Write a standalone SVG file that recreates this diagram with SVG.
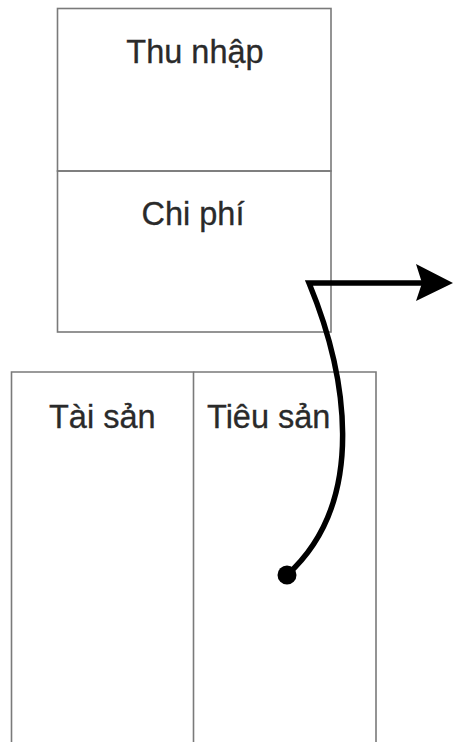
<svg xmlns="http://www.w3.org/2000/svg" width="455" height="742" viewBox="0 0 455 742">
<style>
.box{fill:none;stroke:#7a7a7a;stroke-width:1.6}
.lbl{font-family:"Liberation Sans",Arial,sans-serif;font-size:32.5px;fill:#2a2a2a;stroke:#2a2a2a;stroke-width:0.3}
.flow{fill:none;stroke:#000;stroke-width:5.5;stroke-linejoin:miter}
</style>
<rect width="455" height="742" fill="#fff"/>
<g id="income-expense">
<g id="thu-nhap">
<rect class="box" x="57.5" y="8.5" width="273.5" height="162.5"/>
<text class="lbl" x="195" y="63" text-anchor="middle">Thu nhập</text>
</g>
<g id="chi-phi">
<rect class="box" x="57.5" y="171" width="273.5" height="161"/>
<text class="lbl" x="193" y="225" text-anchor="middle">Chi phí</text>
</g>
</g>
<g id="balance">
<g id="tai-san">
<path class="box" d="M11.5,743 V372 H193.5 V743"/>
<text class="lbl" x="49" y="428">Tài sản</text>
</g>
<g id="tieu-san">
<path class="box" d="M193.5,372 H376 V743"/>
<text class="lbl" x="207" y="428">Tiêu sản</text>
</g>
</g>
<g id="connectors">
<path class="flow" d="M287,575 C370,500 345,370 309,283 H422"/>
<circle cx="287" cy="575" r="9.5" fill="#000"/>
<path d="M453,283 L416,264 L422,283 L416,301 Z" fill="#000"/>
</g>
</svg>
